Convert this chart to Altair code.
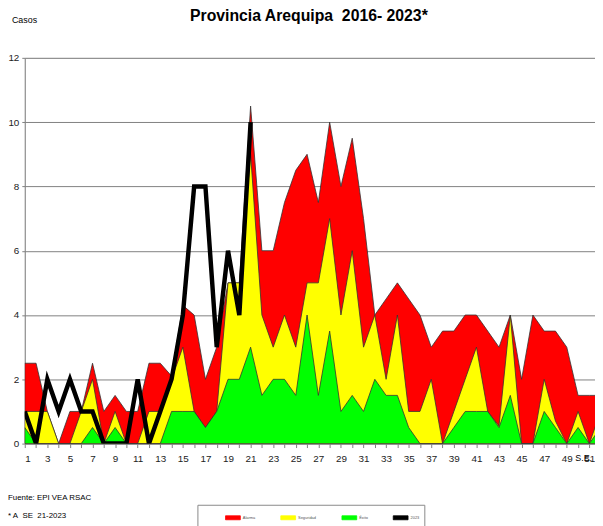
import altair as alt
import pandas as pd

# Semanas epidemiológicas
semanas = list(range(1, 53))

# Canal endémico (zonas)
alarma = [2.5, 2.5, 1, 0, 1, 1, 2.5, 1, 1.5, 1, 1, 2.5, 2.5, 2.1, 4.3, 4, 2, 3, 5, 5,
          10.5, 6, 6, 7.5, 8.5, 9, 7.5, 10, 8, 9.5, 7, 4, 4.5, 5, 4.5, 4, 3, 3.5, 3.5, 4,
          4, 3.5, 3, 4, 2, 4, 3.5, 3.5, 3, 1.5, 1.5, 1.5]
seguridad = [1, 1, 1, 0, 0, 1, 2, 0, 1, 0, 0, 1, 1, 2, 3, 1, 0.5, 1, 5, 5,
             9, 4, 3, 4, 3, 5, 5, 7, 4, 6, 3, 4, 2, 4, 1, 1, 2, 0, 1, 2,
             3, 1, 0.55, 4, 0, 0, 2, 0.7, 0, 1, 0, 1]
exito = [0.5, 0, 0, 0, 0, 0, 0.5, 0, 0.5, 0, 0, 0, 0, 1, 1, 1, 0.5, 1, 2, 2,
         3, 1.5, 2, 2, 1.5, 4, 1.5, 3.5, 1, 1.5, 1, 2, 1.5, 1.5, 0.5, 0, 0, 0, 0.5, 1,
         1, 1, 0.5, 1.5, 0, 0, 1, 0.5, 0, 0.5, 0, 0.5]

# Casos 2023 (hasta SE 21)
casos_2023 = [1, 0, 2, 1, 2, 1, 1, 0, 0, 0, 2, 0, 1, 2, 4, 8, 8, 3, 6, 4, 10]

y_ticks = [0, 2, 4, 6, 8, 10, 12]
series = ["Alarma", "Seguridad", "Éxito", "2023"]
colores = ["#FF0000", "#FFFF00", "#00FF00", "#000000"]

zonas = []
for nombre, valores in (("Alarma", alarma), ("Seguridad", seguridad), ("Éxito", exito)):
    for s, v in zip(semanas, valores):
        zonas.append({"semana": s, "serie": nombre, "valor": v})
df = pd.DataFrame(zonas)
df23 = pd.DataFrame({"semana": semanas[:len(casos_2023)], "valor": casos_2023,
                     "serie": "2023"})

FONT = "Liberation Sans"

xscale = alt.Scale(domain=[1, 51.5], nice=False, zero=False)
xaxis = alt.Axis(values=list(range(1, 52)), labelExpr="datum.value % 2 == 1 ? datum.label : ''",
                 tickSize=4, grid=False, title=None, labelFontSize=10, labelPadding=6,
                 domainColor="#808080", tickColor="#808080", labelColor="#222222",
                 labelFont=FONT, labelOverlap=False)
yscale = alt.Scale(domain=[0, 12], nice=False)
yaxis = alt.Axis(values=y_ticks, grid=True, gridColor="#808080", gridWidth=1,
                 tickSize=3, labelPadding=3, labelFontSize=10, title=None,
                 domainColor="#808080", tickColor="#808080", labelColor="#222222",
                 labelFont=FONT)

color_scale = alt.Scale(domain=series, range=colores)
legend = alt.Legend(orient="none", legendX=175, legendY=453, direction="horizontal",
                    title=None, padding=5, strokeColor="#888888", fillColor="white",
                    symbolType="M-1,-0.27H1V0.27H-1Z", symbolSize=225, symbolOffset=23,
                    symbolStrokeColor="#333333", symbolStrokeWidth=0.8,
                    labelFontSize=4, labelColor="#555555", labelOffset=2,
                    columnPadding=2, labelFont=FONT)

X = alt.X("semana:Q", scale=xscale, axis=xaxis)
Y = alt.Y("valor:Q", scale=yscale, axis=yaxis)
C = alt.Color("serie:N", scale=color_scale, legend=legend)

base = alt.Chart(df)
area_style = dict(stroke="#333333", strokeWidth=0.8, clip=True, opacity=1, fillOpacity=1)

red = base.transform_filter("datum.serie == 'Alarma'").mark_area(**area_style).encode(x=X, y=Y, color=C)
yellow = base.transform_filter("datum.serie == 'Seguridad'").mark_area(**area_style).encode(x=X, y=Y, color=C)
green = base.transform_filter("datum.serie == 'Éxito'").mark_area(**area_style).encode(x=X, y=Y, color=C)
line = alt.Chart(df23).mark_line(strokeWidth=4.5, strokeJoin="miter", clip=True).encode(
    x=X, y=Y, color=C)

one = pd.DataFrame({"a": [0]})

def texto(t, x, y, size, bold=False, align="left"):
    return alt.Chart(one).mark_text(text=t, font=FONT, fontSize=size,
                                    fontWeight="bold" if bold else "normal",
                                    align=align, baseline="alphabetic",
                                    color="#000000").encode(x=alt.value(x), y=alt.value(y))

titulo = texto("Provincia Arequipa\u00a0 2016- 2023*", 288, -37, 16, bold=True, align="center")
casos_lbl = texto("Casos", -13, -35, 9)
se_lbl = texto("S.E.", 558, 409, 9)
fuente = texto("Fuente: EPI VEA RSAC", -17, 448, 8)
nota = texto("* A\u00a0 SE\u00a0 21-2023", -17, 466, 8)

chart = alt.layer(red, yellow, green, line, titulo, casos_lbl, se_lbl, fuente, nota).properties(
    width=578, height=391,
    autosize=alt.AutoSizeParams(type="none"),
    padding={"left": 17, "top": 47, "right": 0, "bottom": 80},
).configure_view(stroke=None).configure(background="white")

chart.save("out.html", embed_options={"renderer": "svg", "actions": False})
